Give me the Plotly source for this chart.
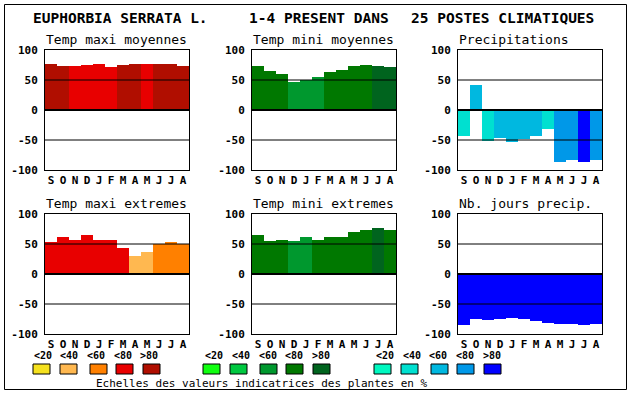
import plotly.graph_objects as go

# ---------------- data ----------------
months = ["S", "O", "N", "D", "J", "F", "M", "A", "M", "J", "J", "A"]

panel_titles = ["Temp maxi moyennes", "Temp mini moyennes", "Precipitations",
                "Temp maxi extremes", "Temp mini extremes", "Nb. jours precip."]

tmax_moy = [77, 73, 73, 75, 77, 72, 75, 77, 77, 77, 77, 73]
tmax_moy_cls = [5, 5, 4, 4, 4, 4, 5, 5, 4, 5, 5, 5]

tmin_moy = [73.5, 65, 60, 47, 50, 55, 63.5, 67, 73.5, 75, 73.5, 72]
tmin_moy_cls = [4, 4, 4, 3, 3, 3, 4, 4, 4, 4, 5, 5]

precip = [-43, 42, -52, -47, -54, -49, -44, -31, -86, -84, -86, -84]
precip_cls = [2, 3, 2, 3, 3, 3, 3, 2, 4, 4, 5, 4]

tmax_ext = [54, 62, 57, 65.5, 57, 57, 44, 30.5, 37, 50, 54, 50]
tmax_ext_cls = [4, 4, 4, 4, 4, 4, 4, 2, 2, 3, 3, 3]

tmin_ext = [65.5, 55.5, 57, 55.5, 62, 57, 62, 62, 70.5, 74, 77, 74]
tmin_ext_cls = [4, 4, 4, 3, 3, 4, 4, 4, 4, 4, 5, 4]

jours = [-84.5, -74.5, -76, -74.5, -73, -74.5, -78, -81, -83, -83, -84.5, -83]
jours_cls = [5, 5, 5, 5, 5, 5, 5, 5, 5, 5, 5, 5]

class_labels = ["<20", "<40", "<60", "<80", ">80"]

reds = ["#F5E11E", "#FFB850", "#FF8000", "#E80000", "#B00E00"]
greens = ["#10FF10", "#00C840", "#00982E", "#007800", "#00641E"]
blues = ["#00F8C0", "#00E0D0", "#00B8E0", "#0098E8", "#0000FF"]

y_ticks = [-100, -50, 0, 50, 100]

title_parts = ["EUPHORBIA SERRATA L.", "1-4 PRESENT DANS", "25 POSTES CLIMATIQUES"]
footer = "Echelles des valeurs indicatrices des plantes en %"

# ---------------- layout helpers ----------------
W, H = 630, 394
MONO = "DejaVu Sans Mono"

def px_x(x):
    return x / W

def px_y(y):
    return 1 - y / H

panels = [
    (tmax_moy, tmax_moy_cls, reds),
    (tmin_moy, tmin_moy_cls, greens),
    (precip, precip_cls, blues),
    (tmax_ext, tmax_ext_cls, reds),
    (tmin_ext, tmin_ext_cls, greens),
    (jours, jours_cls, blues),
]

col_x = [(45, 189), (252, 396), (458, 602)]
row_y = [(50, 170), (214, 334)]

fig = go.Figure()
shapes = []
annotations = []

for i, (vals, cls, pal) in enumerate(panels):
    r, c = divmod(i, 3)
    ax = "" if i == 0 else str(i + 1)
    fig.add_trace(go.Bar(
        x=list(range(len(months))), y=vals, width=1,
        marker=dict(color=[pal[k - 1] for k in cls], line=dict(width=0)),
        xaxis="x" + ax, yaxis="y" + ax, showlegend=False, hoverinfo="skip",
    ))
    x0, x1 = col_x[c]
    y0, y1 = row_y[r]
    fig.layout["xaxis" + ax] = dict(
        domain=[px_x(x0), px_x(x1)], range=[-0.5, 11.5], anchor="y" + ax,
        tickmode="array", tickvals=list(range(12)), ticktext=months,
        tickfont=dict(family=MONO, size=11, color="black", weight="bold"),
        showgrid=False, zeroline=False, showline=True, mirror=True,
        linecolor="black", linewidth=1, ticks="", fixedrange=True, automargin=False,
    )
    fig.layout["yaxis" + ax] = dict(
        domain=[px_y(y1), px_y(y0)], range=[-100, 100], anchor="x" + ax,
        tickmode="array", tickvals=y_ticks, ticktext=[str(v) for v in y_ticks],
        tickfont=dict(family=MONO, size=11, color="black", weight="bold"),
        showgrid=False, zeroline=False, showline=True, mirror=True,
        linecolor="black", linewidth=1, ticks="outside", ticklen=4,
        tickcolor="rgba(0,0,0,0)", fixedrange=True, automargin=False,
    )
    for v in (50, 0, -50):
        shapes.append(dict(type="line", xref=("x" + ax) + " domain", yref="y" + ax,
                           x0=0, x1=1, y0=v, y1=v, layer="above",
                           line=dict(color="black", width=2 if v == 0 else 1)))
    annotations.append(dict(text=panel_titles[i], xref="paper", yref="paper",
                            x=px_x(x0 - 1), y=px_y(y0 - 11), xanchor="left", yanchor="middle",
                            showarrow=False, font=dict(family=MONO, size=13, color="black")))

# title
for txt, xp in zip(title_parts, [31, 247, 409]):
    annotations.append(dict(text=txt, xref="paper", yref="paper", x=px_x(xp), y=px_y(18),
                            xanchor="left", yanchor="middle", showarrow=False,
                            font=dict(family=MONO, size=14.5, color="black", weight="bold")))

# legend
box_offsets = [0, 27, 57, 83, 110]
for g, (pal, gx) in enumerate(zip([reds, greens, blues], [33, 203, 374])):
    lx0 = [31.7, 203.3, 374][g]
    for k in range(5):
        bx = gx + box_offsets[k]
        shapes.append(dict(type="rect", xref="paper", yref="paper",
                           x0=px_x(bx), x1=px_x(bx + 17), y0=px_y(374), y1=px_y(364),
                           fillcolor=pal[k], line=dict(color="black", width=1)))
        lab = class_labels[k].replace("<", "&lt;").replace(">", "&gt;")
        annotations.append(dict(text=lab, xref="paper", yref="paper",
                                x=px_x(lx0 + 26.67 * k), y=px_y(355), xanchor="left", yanchor="middle",
                                showarrow=False,
                                font=dict(family=MONO, size=10, color="black", weight="bold")))

annotations.append(dict(text=footer, xref="paper", yref="paper", x=px_x(262), y=px_y(383),
                        xanchor="center", yanchor="middle", showarrow=False,
                        font=dict(family=MONO, size=11, color="black")))

# outer frame
shapes.append(dict(type="rect", xref="paper", yref="paper",
                   x0=px_x(4.5), x1=px_x(626.5), y0=px_y(389.5), y1=px_y(4.5),
                   line=dict(color="black", width=1), fillcolor="rgba(0,0,0,0)"))

fig.update_layout(
    template="none",
    width=W, height=H, margin=dict(l=0, r=0, t=0, b=0, pad=0, autoexpand=False),
    paper_bgcolor="white", plot_bgcolor="white",
    bargap=0, shapes=shapes, annotations=annotations,
)

fig.write_html("out.html", config={"displayModeBar": False, "responsive": False},
               post_script="document.body.style.margin='0';document.body.style.overflow='hidden';")
